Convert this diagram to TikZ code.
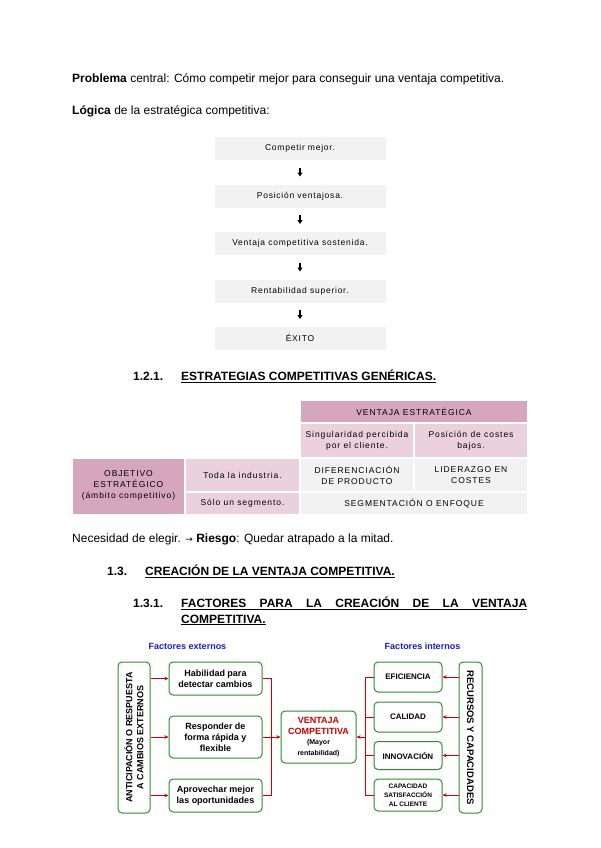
\documentclass[tikz,border=0pt]{standalone}
\usepackage{fontspec}
\setmainfont{Liberation Sans}
\newfontfamily\spc[LetterSpace=9]{Liberation Sans}
\newfontfamily\spct[LetterSpace=11]{Liberation Sans}
\newfontfamily\djv{DejaVu Sans}
\usetikzlibrary{arrows.meta,calc}
\definecolor{boxgray}{HTML}{F2F2F2}
\definecolor{pinkdark}{HTML}{D5A6BD}
\definecolor{pinklight}{HTML}{EAD1DC}
\definecolor{grn}{HTML}{2E8B2E}
\definecolor{rd}{HTML}{CC0000}
\definecolor{blu}{HTML}{1A1ACC}
\tikzset{
  txt/.style={anchor=west,inner sep=0pt,font=\fontsize{12}{14}\selectfont},
  hd/.style={anchor=west,inner sep=0pt,font=\bfseries\fontsize{12}{14}\selectfont},
  flowbox/.style={fill=boxgray,minimum width=171pt,minimum height=23pt,inner sep=0pt,font=\spc\fontsize{8.5}{10}\selectfont},
  flowarr/.style={draw=black,line width=1.5pt,-{Triangle[length=4pt,width=5pt]}},
  cell/.style={inner sep=0pt,align=center,font=\spct\fontsize{8.5}{11}\selectfont},
  gbox/.style={draw=grn,line width=1pt,rounded corners=4pt,fill=white,align=center,inner sep=0pt,font=\bfseries\fontsize{9}{11}\selectfont},
  rarr/.style={draw=rd,line width=0.9pt,-{Stealth[length=4pt,width=3.5pt]}},
  rline/.style={draw=rd,line width=0.9pt},
}
\begin{document}
\begin{tikzpicture}[x=1pt,y=-1pt]
\useasboundingbox (0,0) rectangle (600,848);
\node[txt] (t1) at (72,79) {\textbf{Problema} central: Cómo competir mejor para conseguir una ventaja competitiva.};
\node[txt] (t2) at (72,111) {\textbf{Lógica} de la estratégica competitiva:};
% flow
\node[flowbox] (f1) at (300,148) {Competir mejor.};
\node[flowbox] (f2) at (300,196) {Posición ventajosa.};
\node[flowbox] (f3) at (300,243) {Ventaja competitiva sostenida.};
\node[flowbox] (f4) at (300,291) {Rentabilidad superior.};
\node[flowbox] (f5) at (300,338) {ÉXITO};
\foreach \a/\b in {f1/f2,f2/f3,f3/f4,f4/f5}{
  \draw[flowarr] ($(\a.south)!0.5!(\b.north)+(0,-4.5)$) -- ($(\a.south)!0.5!(\b.north)+(0,4.5)$);
}
% heading 1.2.1
\node[hd] (h1n) at (133,376) {1.2.1.};
\node[hd] (h1) at (181,376) {\underline{ESTRATEGIAS COMPETITIVAS GENÉRICAS.}};
% table
\fill[pinkdark] (301,401) rectangle (527,422);
\node[cell] (va) at (414,411.5) {VENTAJA ESTRATÉGICA};
\fill[pinklight] (301,424) rectangle (413,457);
\node[cell] (sing) at (357,440.5) {Singularidad percibida\\por el cliente.};
\fill[pinklight] (415,424) rectangle (527,457);
\node[cell] (posc) at (471,440.5) {Posición de costes\\bajos.};
\fill[pinkdark] (73,459) rectangle (184,514);
\node[cell] (obj) at (128.5,485) {OBJETIVO\\ESTRATÉGICO\\(ámbito competitivo)};
\fill[pinklight] (186,459) rectangle (299,491);
\node[cell] (toda) at (242.5,475) {Toda la industria.};
\fill[pinklight] (186,493) rectangle (299,514);
\node[cell] (solo) at (242.5,503.5) {Sólo un segmento.};
\fill[boxgray] (301,459) rectangle (413,491);
\node[cell] (dif) at (357,475) {DIFERENCIACIÓN\\DE PRODUCTO};
\fill[boxgray] (415,459) rectangle (527,491);
\node[cell] (lid) at (471,475) {LIDERAZGO EN\\COSTES};
\fill[boxgray] (301,493) rectangle (527,514);
\node[cell] (seg) at (414,503.5) {SEGMENTACIÓN O ENFOQUE};
% text
\node[txt] (t3) at (72,539) {Necesidad de elegir. {\djv\fontsize{9}{11}\selectfont →} \textbf{Riesgo}: Quedar atrapado a la mitad.};
\node[hd] (h2n) at (107,571) {1.3.};
\node[hd] (h2) at (145,571) {\underline{CREACIÓN DE LA VENTAJA COMPETITIVA.}};
\node[hd] (h3n) at (133,603) {1.3.1.};
\node[hd] (h3) at (181,603) {\underline{\makebox[346pt][s]{FACTORES\hfill PARA\hfill LA\hfill CREACIÓN\hfill DE\hfill LA\hfill VENTAJA}}};
\node[hd] (h3b) at (181,620) {\underline{COMPETITIVA.}};
% diagram
\node[font=\bfseries\fontsize{9}{10}\selectfont,text=blu,inner sep=0pt] (fe) at (187.5,646) {Factores externos};
\node[font=\bfseries\fontsize{9}{10}\selectfont,text=blu,inner sep=0pt] (fi) at (422.5,646) {Factores internos};
\node[gbox,minimum width=151pt,minimum height=32pt,rotate=90] (ant) at (134,737.5) {ANTICIPACIÓN O RESPUESTA\\A CAMBIOS EXTERNOS};
\node[gbox,minimum width=93pt,minimum height=33pt] (e1) at (215.5,678.5) {Habilidad para\\detectar cambios};
\node[gbox,minimum width=93pt,minimum height=42pt] (e2) at (215.5,737) {Responder de\\forma rápida y\\flexible};
\node[gbox,minimum width=93pt,minimum height=33pt] (e3) at (215.5,795.5) {Aprovechar mejor\\las oportunidades};
\node[gbox,minimum width=75pt,minimum height=52pt] (vc) at (318.5,737) {\textcolor{rd}{VENTAJA}\\\textcolor{rd}{COMPETITIVA}\\[-1pt]{\fontsize{7}{8.5}\selectfont(Mayor}\\{\fontsize{7}{8.5}\selectfont rentabilidad)}};
\node[gbox,minimum width=68pt,minimum height=30pt,font=\bfseries\fontsize{8}{10}\selectfont] (i1) at (408,677) {EFICIENCIA};
\node[gbox,minimum width=68pt,minimum height=30pt,font=\bfseries\fontsize{8}{10}\selectfont] (i2) at (408,717) {CALIDAD};
\node[gbox,minimum width=68pt,minimum height=28pt,font=\bfseries\fontsize{8}{10}\selectfont] (i3) at (408,755.5) {INNOVACIÓN};
\node[gbox,minimum width=68pt,minimum height=32pt,font=\bfseries\fontsize{6.5}{9}\selectfont] (i4) at (408,795) {CAPACIDAD\\SATISFACCIÓN\\AL CLIENTE};
\node[gbox,minimum width=151pt,minimum height=23pt,rotate=-90,font=\bfseries\fontsize{9.5}{11}\selectfont] (rc) at (470.5,737.5) {RECURSOS Y CAPACIDADES};
% left arrows
\draw[rarr] (ant.south |- e1.west) -- (e1.west);
\draw[rarr] (ant.south |- e2.west) -- (e2.west);
\draw[rarr] (ant.south |- e3.west) -- (e3.west);
\coordinate (lb) at (271,737);
\draw[rline] (e1.east) -- (lb |- e1.east) -- (lb |- e3.east) -- (e3.east);
\draw[rline] (e2.east) -- (lb);
\draw[rarr] (lb) -- (vc.west);
% right
\coordinate (rb) at (365,737);
\draw[rline] (i1.west) -- (rb |- i1.west) -- (rb |- i4.west) -- (i4.west);
\draw[rline] (i2.west) -- (rb |- i2.west);
\draw[rline] (i3.west) -- (rb |- i3.west);
\draw[rarr] (rb) -- (vc.east);
\draw[rarr] (rc.south |- i1.east) -- (i1.east);
\draw[rarr] (rc.south |- i2.east) -- (i2.east);
\draw[rarr] (rc.south |- i3.east) -- (i3.east);
\draw[rarr] (rc.south |- i4.east) -- (i4.east);
\end{tikzpicture}
\end{document}
